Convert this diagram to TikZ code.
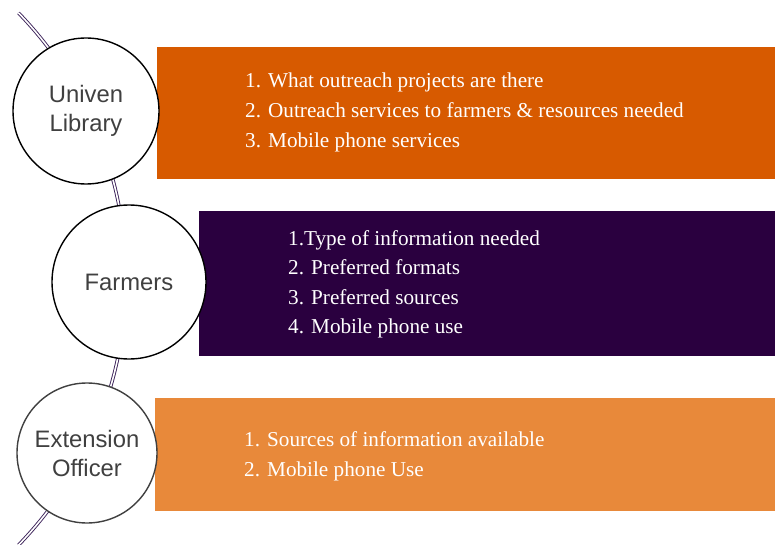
\documentclass[tikz,border=0pt]{standalone}
\usepackage{fontspec}
\newfontfamily\itemserif{Liberation Serif}
\newfontfamily\labelsans{Liberation Sans}
\definecolor{boxA}{HTML}{D75A00}
\definecolor{boxB}{HTML}{2A003F}
\definecolor{boxC}{HTML}{E8893A}
\definecolor{linkviolet}{HTML}{3A2058}
\definecolor{labelgray}{HTML}{404040}
\begin{document}
\begin{tikzpicture}[x=1pt,y=1pt,
  panel/.style={draw=white,line width=0.8pt},
  item/.style={anchor=base west,inner sep=0pt,text=white,
    font=\itemserif\fontsize{21.2}{25}\selectfont},
  topic/.style={circle,fill=white,line width=1.4pt,inner sep=0pt,
    minimum size=#1,align=center,text=labelgray,
    font=\labelsans\fontsize{23.8}{29}\selectfont},
  link/.style={draw=linkviolet,line width=0.9pt,double=white,double distance=1.6pt}]
\useasboundingbox (0,0) rectangle (775,-545);

% coloured panels
\path[panel,fill=boxA] (156,-46) rectangle (776,-179);
\path[panel,fill=boxB] (198,-210) rectangle (776,-356);
\path[panel,fill=boxC] (154,-397) rectangle (776,-511);

% curved spine behind the circles
\coordinate (spine) at (-257,-279);
\draw[link] (spine) ++(44:383) arc[start angle=44,end angle=-44,radius=383];

% topic circles
\node[topic=146pt,draw=black] (univen) at (86,-111) {Univen\\Library};
\node[topic=154pt,draw=black] (farmers) at (129,-282) {Farmers};
\node[topic=140pt,draw=labelgray] (officer) at (87,-453) {Extension\\Officer};

% panel texts
\node[item] (a1) at (245,-88) {1. What outreach projects are there};
\node[item] (a2) at (245,-118) {2. Outreach services to farmers \& resources needed};
\node[item] (a3) at (245,-148) {3. Mobile phone services};

\node[item] (b1) at (288,-245) {1.Type of information needed};
\node[item] (b2) at (288,-274) {2. Preferred formats};
\node[item] (b3) at (288,-304) {3. Preferred sources};
\node[item] (b4) at (288,-333) {4. Mobile phone use};

\node[item] (c1) at (244,-446) {1. Sources of information available};
\node[item] (c2) at (244,-476) {2. Mobile phone Use};
\end{tikzpicture}
\end{document}
